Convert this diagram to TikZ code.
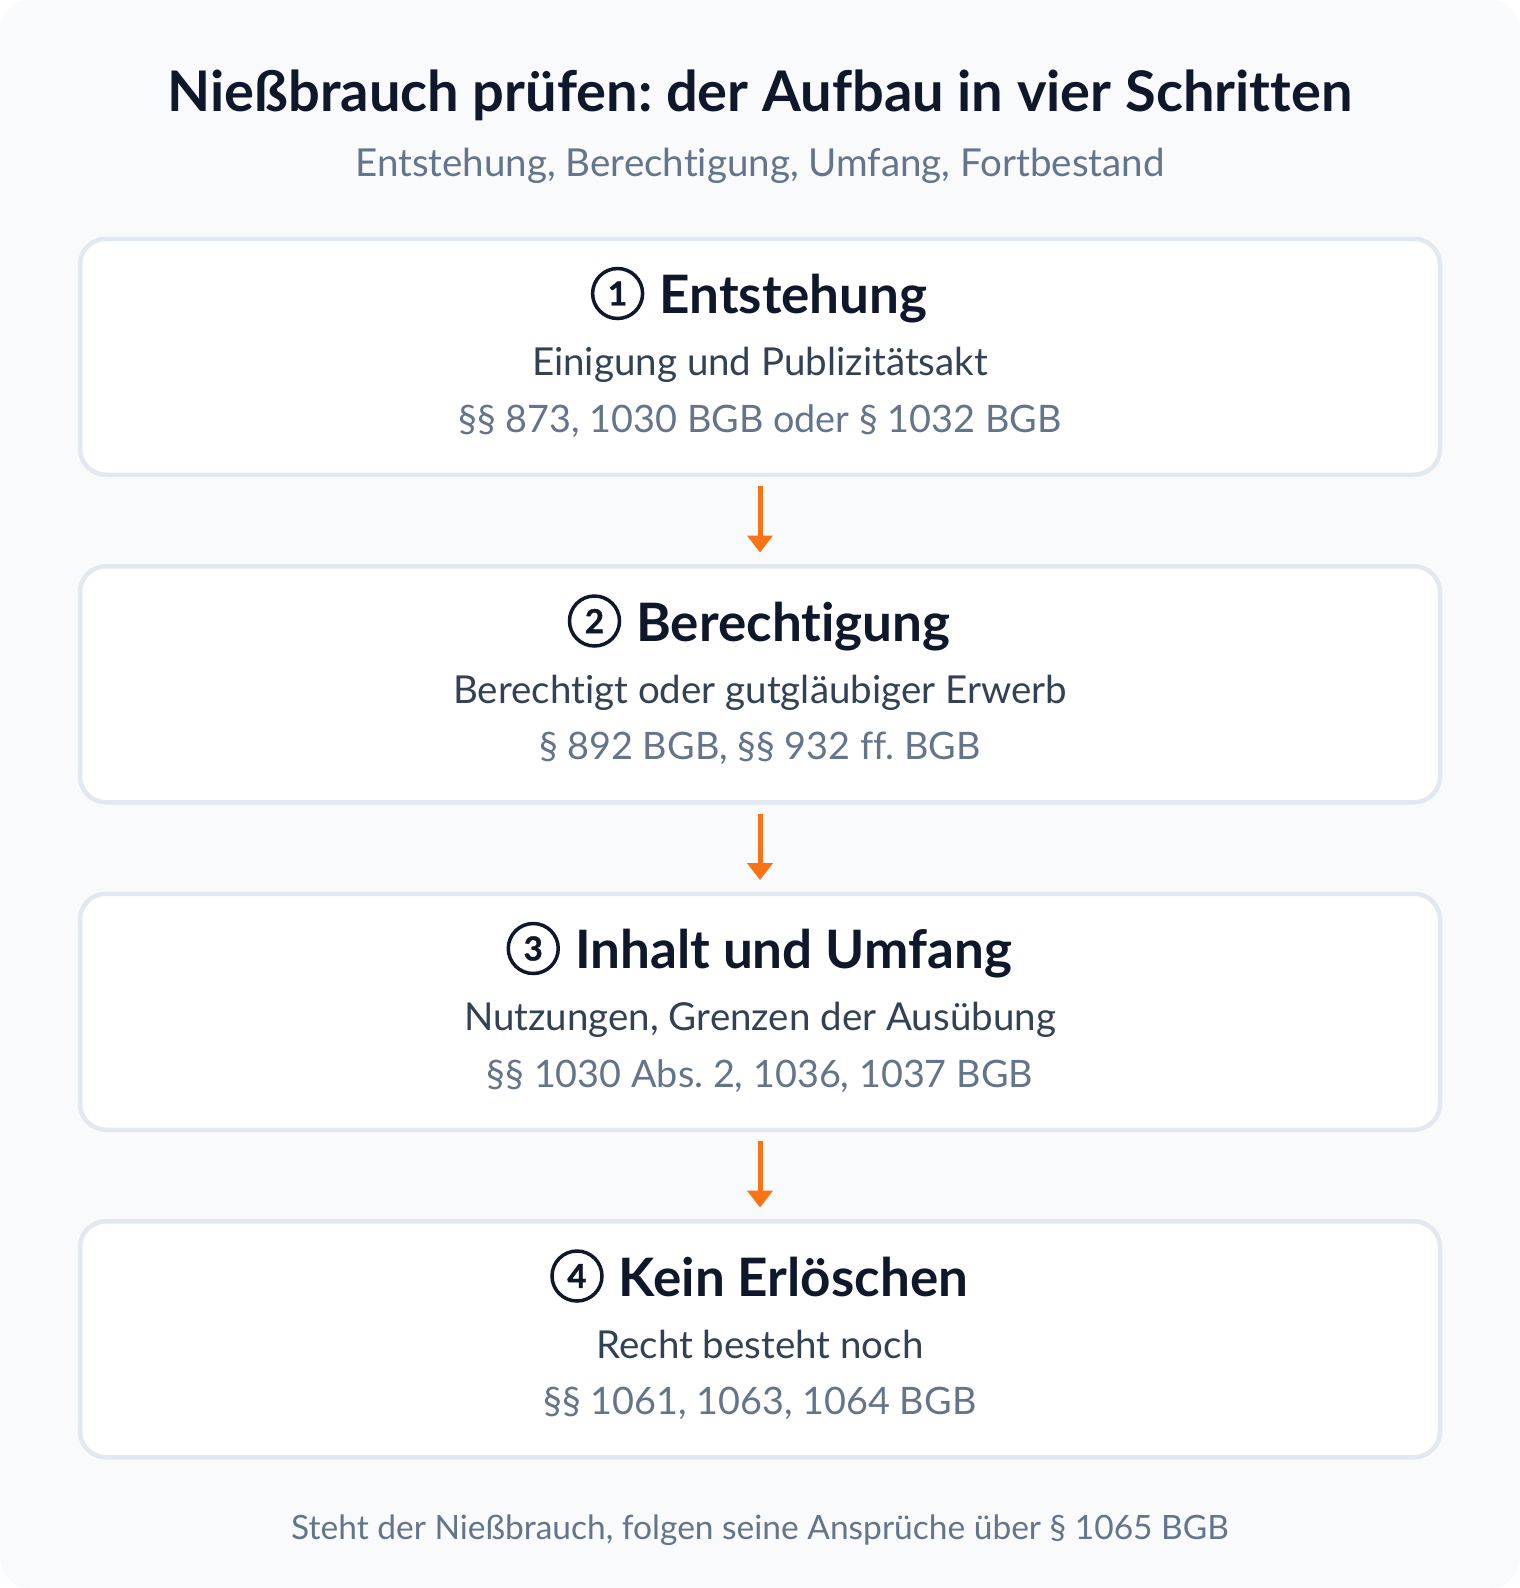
\documentclass[tikz,border=0pt]{standalone}
\usepackage{fontspec}
\setmainfont{Lato}[Ligatures=NoCommon]
\newfontfamily\numfont{Lato Bold}[FakeBold=1.2]
\usetikzlibrary{arrows.meta}
\definecolor{bgc}{HTML}{F8FAFC}
\definecolor{ink}{HTML}{0F172A}
\definecolor{bodyc}{HTML}{334155}
\definecolor{muted}{HTML}{64748B}
\definecolor{edgec}{HTML}{E2E8F0}
\definecolor{accent}{HTML}{F97316}
\frenchspacing
\begin{document}
\begin{tikzpicture}[x=1pt,y=-1pt,
  stepbox/.style={draw=edgec, line width=4.5pt, fill=white, rounded corners=26pt, minimum width=1360pt, minimum height=236pt, anchor=north, inner sep=0pt},
  headtext/.style={anchor=base, inner sep=0pt, text=ink, font=\fontsize{53}{62}\selectfont\bfseries},
  numcirc/.style={circle, draw=ink, line width=3.5pt, minimum size=50pt, inner sep=0pt, anchor=east, text=ink, font=\numfont\fontsize{33}{40}\selectfont},
  linetext/.style={anchor=base, inner sep=0pt, text=bodyc, font=\fontsize{38.5}{46}\selectfont},
  reftext/.style={anchor=base, inner sep=0pt, text=muted, font=\fontsize{37.8}{46}\selectfont},
  flow/.style={draw=accent, line width=5pt, -{Triangle[width=25pt,length=17pt]}}
]
\useasboundingbox (0,0) rectangle (1520,1588);
\fill[bgc, rounded corners=30pt] (0,0) rectangle (1520,1588);

\node[anchor=base, inner sep=0pt, text=ink, font=\fontsize{56}{66}\selectfont\bfseries] (title) at (760,111) {Nießbrauch prüfen: der Aufbau in vier Schritten};
\node[anchor=base, inner sep=0pt, text=muted, font=\fontsize{38.5}{46}\selectfont] (subtitle) at (760,176) {Entstehung, Berechtigung, Umfang, Fortbestand};

% Step 1
\node[stepbox] (b1) at (760,236.5) {};
\node[headtext] (h1) at (793.5,313.5) {Entstehung};
\node[numcirc] (c1) at ([xshift=-15pt,yshift=20pt]h1.base west) {1};
\node[linetext] (l1) at (760,375.5) {Einigung und Publizitätsakt};
\node[reftext] (r1) at (760,432) {§§ 873, 1030 BGB oder § 1032 BGB};

% Step 2
\node[stepbox] (b2) at (760,564) {};
\node[headtext] (h2) at (793.5,641) {Berechtigung};
\node[numcirc] (c2) at ([xshift=-15pt,yshift=20pt]h2.base west) {2};
\node[linetext] (l2) at (760,703) {Berechtigt oder gutgläubiger Erwerb};
\node[reftext] (r2) at (760,759.5) {§ 892 BGB, §§ 932 ff. BGB};

% Step 3
\node[stepbox] (b3) at (760,891.5) {};
\node[headtext] (h3) at (793.5,968.5) {Inhalt und Umfang};
\node[numcirc] (c3) at ([xshift=-15pt,yshift=20pt]h3.base west) {3};
\node[linetext] (l3) at (760,1030.5) {Nutzungen, Grenzen der Ausübung};
\node[reftext] (r3) at (760,1087) {§§ 1030 Abs. 2, 1036, 1037 BGB};

% Step 4
\node[stepbox] (b4) at (760,1219) {};
\node[headtext] (h4) at (793.5,1296) {Kein Erlöschen};
\node[numcirc] (c4) at ([xshift=-15pt,yshift=20pt]h4.base west) {4};
\node[linetext] (l4) at (760,1358) {Recht besteht noch};
\node[reftext] (r4) at (760,1414.5) {§§ 1061, 1063, 1064 BGB};

\draw[flow] ([yshift=-9pt]b1.south) -- ([yshift=11.5pt]b2.north);
\draw[flow] ([yshift=-9pt]b2.south) -- ([yshift=11.5pt]b3.north);
\draw[flow] ([yshift=-9pt]b3.south) -- ([yshift=11.5pt]b4.north);

\node[anchor=base, inner sep=0pt, text=muted, font=\fontsize{33.5}{40}\selectfont] (footer) at (760,1539) {Steht der Nießbrauch, folgen seine Ansprüche über § 1065 BGB};
\end{tikzpicture}
\end{document}
